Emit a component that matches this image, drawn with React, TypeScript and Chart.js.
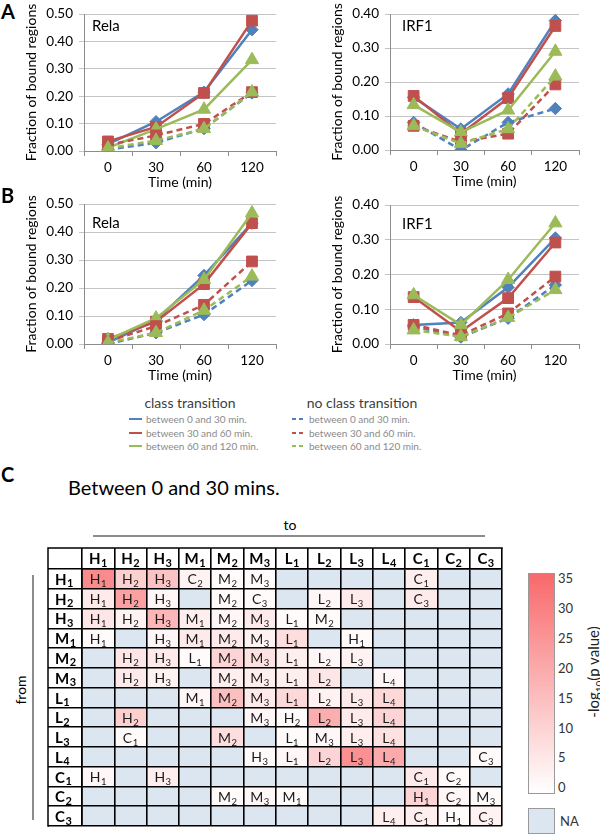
import React, { useEffect, useRef } from "react";
import { Chart, registerables } from "chart.js";
Chart.register(...registerables);

const FONT = "Lato, Carlito, 'DejaVu Sans', sans-serif";

// ---------- line chart data ----------
const timeLabels = ["0", "30", "60", "120"];

const aRelaSolid030 = [0.025, 0.107, 0.215, 0.443];
const aRelaSolid3060 = [0.035, 0.088, 0.212, 0.476];
const aRelaSolid60120 = [0.012, 0.08, 0.152, 0.333];
const aRelaDash030 = [0.005, 0.03, 0.082, 0.212];
const aRelaDash3060 = [0.022, 0.057, 0.099, 0.215];
const aRelaDash60120 = [0.01, 0.038, 0.081, 0.215];

const aIrfSolid030 = [0.155, 0.062, 0.165, 0.381];
const aIrfSolid3060 = [0.159, 0.048, 0.153, 0.365];
const aIrfSolid60120 = [0.133, 0.052, 0.117, 0.29];
const aIrfDash030 = [0.081, 0.0, 0.081, 0.122];
const aIrfDash3060 = [0.071, 0.024, 0.048, 0.193];
const aIrfDash60120 = [0.071, 0.019, 0.062, 0.217];

const bRelaSolid030 = [0.005, 0.085, 0.245, 0.432];
const bRelaSolid3060 = [0.018, 0.08, 0.214, 0.432];
const bRelaSolid60120 = [0.015, 0.092, 0.23, 0.468];
const bRelaDash030 = [0.0, 0.04, 0.105, 0.227];
const bRelaDash3060 = [0.01, 0.064, 0.14, 0.295];
const bRelaDash60120 = [0.005, 0.04, 0.12, 0.242];

const bIrfSolid030 = [0.055, 0.062, 0.163, 0.305];
const bIrfSolid3060 = [0.135, 0.036, 0.132, 0.292];
const bIrfSolid60120 = [0.141, 0.055, 0.185, 0.348];
const bIrfDash030 = [0.05, 0.02, 0.074, 0.17];
const bIrfDash3060 = [0.055, 0.025, 0.088, 0.194];
const bIrfDash60120 = [0.04, 0.021, 0.076, 0.156];

const legendLabels = ["between 0 and 30 min.", "between 30 and 60 min.", "between 60 and 120 min."];

// ---------- heatmap data ----------
const classLabels = ["H1", "H2", "H3", "M1", "M2", "M3", "L1", "L2", "L3", "L4", "C1", "C2", "C3"];

const cellText: string[][] = [
  ["H1", "H2", "H3", "C2", "M2", "M3", "", "", "", "", "C1", "", ""],
  ["H1", "H2", "H3", "", "M2", "C3", "", "L2", "L3", "", "C3", "", ""],
  ["H1", "H2", "H3", "M1", "M2", "M3", "L1", "M2", "", "", "", "", ""],
  ["H1", "", "H3", "M1", "M2", "M3", "L1", "", "H1", "", "", "", ""],
  ["", "H2", "H3", "L1", "M2", "M3", "L1", "L2", "L3", "", "", "", ""],
  ["", "H2", "H3", "", "M2", "M3", "L1", "L2", "", "L4", "", "", ""],
  ["", "", "", "M1", "M2", "M3", "L1", "L2", "L3", "L4", "", "", ""],
  ["", "H2", "", "", "", "M3", "H2", "L2", "L3", "L4", "", "", ""],
  ["", "C1", "", "", "M2", "", "L1", "M3", "L3", "L4", "", "", ""],
  ["", "", "", "", "", "H3", "L1", "L2", "L3", "L4", "", "", "C3"],
  ["H1", "", "H3", "", "", "", "", "", "", "", "C1", "C2", ""],
  ["", "", "", "", "M2", "M3", "M1", "", "", "", "H1", "C2", "M3"],
  ["", "", "", "", "", "", "", "", "", "L4", "C1", "H1", "C3"],
];

const N = null;
const cellLogP: (number | null)[][] = [
  [27, 11, 14, 3, 1, 1, N, N, N, N, 4, N, N],
  [5, 22, 2, N, 1, 1, N, 2, 5, N, 5, N, N],
  [6, 3, 17, 4, 2, 5, 1, 1, N, N, N, N, N],
  [1, N, 2, 5, 5, 3, 8, N, 1, N, N, N, N],
  [N, 6, 5, 1, 10, 7, 4, 2, 3, N, N, N, N],
  [N, 5, 3, N, 4, 4, 4, 6, N, 2, N, N, N],
  [N, N, N, 2, 15, 5, 9, 3, 5, 9, N, N, N],
  [N, 11, N, N, N, 2, 1, 19, 5, 10, N, N, N],
  [N, 1, N, N, 8, N, 1, 2, 4, 7, N, N, N],
  [N, N, N, N, N, 1, 2, 10, 26, 20, N, N, 1],
  [2, N, 4, N, N, N, N, N, N, N, 5, 1, N],
  [N, N, N, N, 1, 2, 1, N, N, N, 10, 2, 1],
  [N, N, N, N, N, N, N, N, N, 4, 4, 1, 3],
];

const colorbarTicks = [35, 30, 25, 20, 15, 10, 5, 0];

const BLUE = "#4f81bd";
const RED = "#c0504d";
const GREEN = "#9bbb59";
const NA_COLOR = "#dce6f1";

function heatColor(v: number) {
  const t = Math.max(0, Math.min(1, v / 35));
  const r = Math.round(255 + t * (248 - 255));
  const g = Math.round(255 + t * (105 - 255));
  const b = Math.round(255 + t * (107 - 255));
  return `rgb(${r},${g},${b})`;
}

type Box = { left: number; top: number; width: number; height: number };
type Area = { l: number; t: number; r: number; b: number };

function LineChart(props: { box: Box; area: Area; yMax: number; data: number[][] }) {
  const ref = useRef<HTMLCanvasElement>(null);
  const { box, area, yMax, data } = props;
  useEffect(() => {
    const colors = [BLUE, RED, GREEN, BLUE, RED, GREEN];
    const styles = ["rectRot", "rect", "triangle", "rectRot", "rect", "triangle"];
    const radii = [6.2, 7.6, 7.6, 6.2, 7.6, 7.6];
    const yW = area.l - box.left;
    const xH = box.top + box.height - area.b;
    const chart = new Chart(ref.current!, {
      type: "line",
      data: {
        labels: timeLabels,
        datasets: data.map((d, i) => ({
          data: d,
          borderColor: colors[i],
          backgroundColor: colors[i],
          pointBackgroundColor: colors[i],
          pointBorderColor: colors[i],
          borderWidth: 2.5,
          borderDash: i >= 3 ? [6, 4] : [],
          pointStyle: styles[i] as any,
          pointRadius: radii[i],
          pointBorderWidth: 1,
          tension: 0,
          fill: false,
          order: 6 - i,
        })),
      },
      options: {
        responsive: false,
        animation: false,
        layout: {
          padding: { top: area.t - box.top, right: box.left + box.width - area.r, left: 0, bottom: 0 },
        },
        plugins: { legend: { display: false }, tooltip: { enabled: false } },
        scales: {
          x: {
            type: "category",
            offset: true,
            grid: { offset: true, drawOnChartArea: false, drawTicks: true, tickLength: 5, color: "#8c8c8c" },
            border: { color: "#8c8c8c", width: 1 },
            ticks: { font: { family: FONT, size: 13.5 }, color: "#000", padding: 4, maxRotation: 0 },
            title: {
              display: true,
              text: "Time (min)",
              font: { family: FONT, size: 14 },
              color: "#000",
              padding: { top: 4, bottom: 3.5 },
            },
            afterFit: (s: any) => {
              s.height = xH;
            },
          },
          y: {
            min: 0,
            max: yMax,
            ticks: {
              stepSize: 0.1,
              callback: (v: any) => Number(v).toFixed(2),
              font: { family: FONT, size: 13.5 },
              color: "#000",
              padding: 6,
            },
            grid: { color: "#c4c4c4", tickLength: 5, drawTicks: true },
            border: { color: "#8c8c8c" },
            title: {
              display: true,
              text: "Fraction of bound regions",
              font: { family: FONT, size: 14 },
              color: "#000",
              padding: { top: 3.5, bottom: 4 },
            },
            afterFit: (s: any) => {
              s.width = yW;
            },
          },
        },
      } as any,
    });
    return () => chart.destroy();
  }, []);
  return (
    <canvas
      ref={ref}
      width={box.width}
      height={box.height}
      style={{ position: "absolute", left: box.left, top: box.top, width: box.width, height: box.height }}
    />
  );
}

function drawSub(
  ctx: CanvasRenderingContext2D,
  x: number,
  y: number,
  text: string,
  size: number,
  subSize: number,
  bold: boolean,
  align: "center" | "left",
  subDrop: number
) {
  const letter = text.slice(0, 1);
  const digit = text.slice(1);
  const w = bold ? "bold " : "";
  ctx.font = `${w}${size}px ${FONT}`;
  const wl = ctx.measureText(letter).width;
  ctx.font = `${w}${subSize}px ${FONT}`;
  const wd = ctx.measureText(digit).width;
  const start = align === "center" ? x - (wl + wd + 0.5) / 2 : x;
  ctx.textAlign = "left";
  ctx.textBaseline = "alphabetic";
  ctx.font = `${w}${size}px ${FONT}`;
  ctx.fillText(letter, start, y);
  ctx.font = `${w}${subSize}px ${FONT}`;
  ctx.fillText(digit, start + wl + 0.5, y + subDrop);
}

const HEADER_H = 21;
const LABEL_W = 34;

const tablePlugin = {
  id: "tableText",
  afterDraw(chart: any) {
    const ctx: CanvasRenderingContext2D = chart.ctx;
    const xs = chart.scales.x;
    const ys = chart.scales.y;
    const ca = chart.chartArea;
    ctx.save();
    ctx.strokeStyle = "#000";
    ctx.lineWidth = 1.5;
    ctx.beginPath();
    ctx.moveTo(ca.left - LABEL_W - 0.75, ca.top - HEADER_H);
    ctx.lineTo(ca.right + 0.75, ca.top - HEADER_H);
    ctx.moveTo(ca.left - LABEL_W, ca.top - HEADER_H);
    ctx.lineTo(ca.left - LABEL_W, ca.bottom + 0.75);
    ctx.stroke();
    ctx.fillStyle = "#000";
    classLabels.forEach((lab, c) => {
      const x = xs.getPixelForValue(c);
      drawSub(ctx, x, ca.top - HEADER_H / 2 + 5.5, lab, 15, 11, true, "center", 2.5);
    });
    classLabels.forEach((lab, r) => {
      const y = ys.getPixelForValue(r + 0.5);
      drawSub(ctx, ca.left - LABEL_W + 7, y + 6, lab, 15, 11, true, "left", 2.5);
    });
    ctx.fillStyle = "#1a1a1a";
    cellText.forEach((row, r) => {
      row.forEach((txt, c) => {
        if (!txt) return;
        const x = xs.getPixelForValue(c);
        const y = ys.getPixelForValue(r + 0.5);
        drawSub(ctx, x, y + 5.5, txt, 14, 9.5, false, "center", 3);
      });
    });
    ctx.restore();
  },
};

function Heatmap(props: { box: Box; area: Area }) {
  const ref = useRef<HTMLCanvasElement>(null);
  const { box, area } = props;
  useEffect(() => {
    const chart = new Chart(ref.current!, {
      type: "bar",
      data: {
        labels: classLabels,
        datasets: cellLogP.map((row) => ({
          data: row.map(() => 1),
          backgroundColor: row.map((v) => (v == null ? NA_COLOR : heatColor(v))),
          borderWidth: 0,
          barPercentage: 1,
          categoryPercentage: 1,
          stack: "s",
        })),
      },
      options: {
        responsive: false,
        animation: false,
        layout: {
          padding: {
            left: area.l - LABEL_W + 7 - box.left,
            top: area.t - HEADER_H - box.top,
            right: box.left + box.width - area.r,
            bottom: box.top + box.height - area.b,
          },
        },
        plugins: { legend: { display: false }, tooltip: { enabled: false } },
        scales: {
          x: {
            type: "category",
            position: "top",
            stacked: true,
            offset: true,
            grid: { offset: true, color: "#000", lineWidth: 1.6, tickLength: HEADER_H, drawTicks: true, z: 1 },
            border: { display: true, color: "#000", width: 1.6, z: 1 },
            ticks: { display: false },
            afterFit: (s: any) => {
              s.height = HEADER_H;
            },
          },
          y: {
            type: "linear",
            stacked: true,
            reverse: true,
            min: 0,
            max: 13,
            ticks: { display: false, stepSize: 1 },
            grid: { color: "#000", lineWidth: 1.6, tickLength: LABEL_W, drawTicks: true, z: 1 },
            border: { display: true, color: "#000", width: 1.6, z: 1 },
            afterFit: (s: any) => {
              s.width = LABEL_W - 7;
            },
          },
        },
      } as any,
      plugins: [tablePlugin],
    });
    return () => chart.destroy();
  }, []);
  return (
    <canvas
      ref={ref}
      width={box.width}
      height={box.height}
      style={{ position: "absolute", left: box.left, top: box.top, width: box.width, height: box.height }}
    />
  );
}

function Txt(props: { x: number; y: number; size: number; children: any; bold?: boolean; color?: string; center?: boolean }) {
  return (
    <div
      style={{
        position: "absolute",
        left: props.x,
        top: props.y,
        transform: props.center ? "translate(-50%,-50%)" : "translate(0,-50%)",
        fontSize: props.size,
        fontWeight: props.bold ? "bold" : "normal",
        color: props.color || "#000",
        whiteSpace: "nowrap",
        lineHeight: 1,
      }}
    >
      {props.children}
    </div>
  );
}

function LegendRow(props: { x: number; y: number; color: string; dashed: boolean; text: string }) {
  const { x, y, color, dashed, text } = props;
  return (
    <>
      {dashed ? (
        <>
          <div style={{ position: "absolute", left: x, top: y - 1, width: 4, height: 2, background: color }} />
          <div style={{ position: "absolute", left: x + 7, top: y - 1, width: 4, height: 2, background: color }} />
        </>
      ) : (
        <div style={{ position: "absolute", left: x, top: y - 1, width: 13, height: 2, background: color }} />
      )}
      <Txt x={x + 17} y={y} size={10} color="#8a8a8a">
        {text}
      </Txt>
    </>
  );
}

export default function App() {
  const legendColors = [BLUE, RED, GREEN];
  const legendY = [419, 432.5, 446];
  return (
    <div
      style={{
        position: "absolute",
        left: 0,
        top: 0,
        width: 600,
        height: 836,
        background: "#fff",
        overflow: "hidden",
        fontFamily: FONT,
      }}
    >
      <LineChart
        box={{ left: 20, top: 0, width: 280, height: 194 }}
        area={{ l: 84, t: 11, r: 276, b: 151 }}
        yMax={0.5}
        data={[aRelaSolid030, aRelaSolid3060, aRelaSolid60120, aRelaDash030, aRelaDash3060, aRelaDash60120]}
      />
      <LineChart
        box={{ left: 326, top: 0, width: 274, height: 193 }}
        area={{ l: 390, t: 10, r: 579, b: 150 }}
        yMax={0.4}
        data={[aIrfSolid030, aIrfSolid3060, aIrfSolid60120, aIrfDash030, aIrfDash3060, aIrfDash60120]}
      />
      <LineChart
        box={{ left: 20, top: 190, width: 280, height: 197 }}
        area={{ l: 84, t: 204, r: 276, b: 344 }}
        yMax={0.5}
        data={[bRelaSolid030, bRelaSolid3060, bRelaSolid60120, bRelaDash030, bRelaDash3060, bRelaDash60120]}
      />
      <LineChart
        box={{ left: 326, top: 190, width: 274, height: 197 }}
        area={{ l: 390, t: 205, r: 579, b: 344 }}
        yMax={0.4}
        data={[bIrfSolid030, bIrfSolid3060, bIrfSolid60120, bIrfDash030, bIrfDash3060, bIrfDash60120]}
      />

      <Txt x={1} y={11} size={20} bold>A</Txt>
      <Txt x={1} y={195} size={20} bold>B</Txt>
      <Txt x={1} y={474} size={20} bold>C</Txt>

      <Txt x={92} y={25} size={15}>Rela</Txt>
      <Txt x={402} y={25} size={15}>IRF1</Txt>
      <Txt x={92} y={222} size={15}>Rela</Txt>
      <Txt x={402} y={223} size={15}>IRF1</Txt>

      <Txt x={190} y={403} size={14} color="#404040" center>class transition</Txt>
      <Txt x={362} y={403} size={14} color="#404040" center>no class transition</Txt>
      {legendLabels.map((t, i) => (
        <LegendRow key={"s" + i} x={129} y={legendY[i]} color={legendColors[i]} dashed={false} text={t} />
      ))}
      {legendLabels.map((t, i) => (
        <LegendRow key={"d" + i} x={292} y={legendY[i]} color={legendColors[i]} dashed={true} text={t} />
      ))}

      <Txt x={68} y={487} size={20}>Between 0 and 30 mins.</Txt>

      <Txt x={290} y={525} size={14} center>to</Txt>
      <div style={{ position: "absolute", left: 93, top: 535, width: 392, height: 1.5, background: "#8c8c8c" }} />
      <div style={{ position: "absolute", left: 32, top: 575, width: 1.5, height: 245, background: "#8c8c8c" }} />
      <div
        style={{
          position: "absolute",
          left: 21,
          top: 690,
          transform: "translate(-50%,-50%) rotate(-90deg)",
          fontSize: 14,
          whiteSpace: "nowrap",
          lineHeight: 1,
        }}
      >
        from
      </div>

      <Heatmap box={{ left: 30, top: 538, width: 480, height: 298 }} area={{ l: 82, t: 569, r: 502, b: 826 }} />

      <div
        style={{
          position: "absolute",
          left: 528,
          top: 573,
          width: 25,
          height: 219,
          border: "1px solid #999",
          background: "linear-gradient(to top, #ffffff, #f8696b)",
        }}
      />
      {colorbarTicks.map((v, i) => (
        <Txt key={v} x={558} y={578 + i * 29.9} size={13} color="#333">
          {String(v)}
        </Txt>
      ))}
      <div
        style={{
          position: "absolute",
          left: 595,
          top: 672,
          transform: "translate(-50%,-50%) rotate(-90deg)",
          fontSize: 15,
          whiteSpace: "nowrap",
          lineHeight: 1,
          color: "#222",
        }}
      >
        -log<sub style={{ fontSize: 10 }}>10</sub>(p value)
      </div>
      <div
        style={{
          position: "absolute",
          left: 528,
          top: 808,
          width: 25,
          height: 24,
          border: "1px solid #999",
          background: NA_COLOR,
        }}
      />
      <Txt x={560} y={821} size={13} color="#333">NA</Txt>
    </div>
  );
}
